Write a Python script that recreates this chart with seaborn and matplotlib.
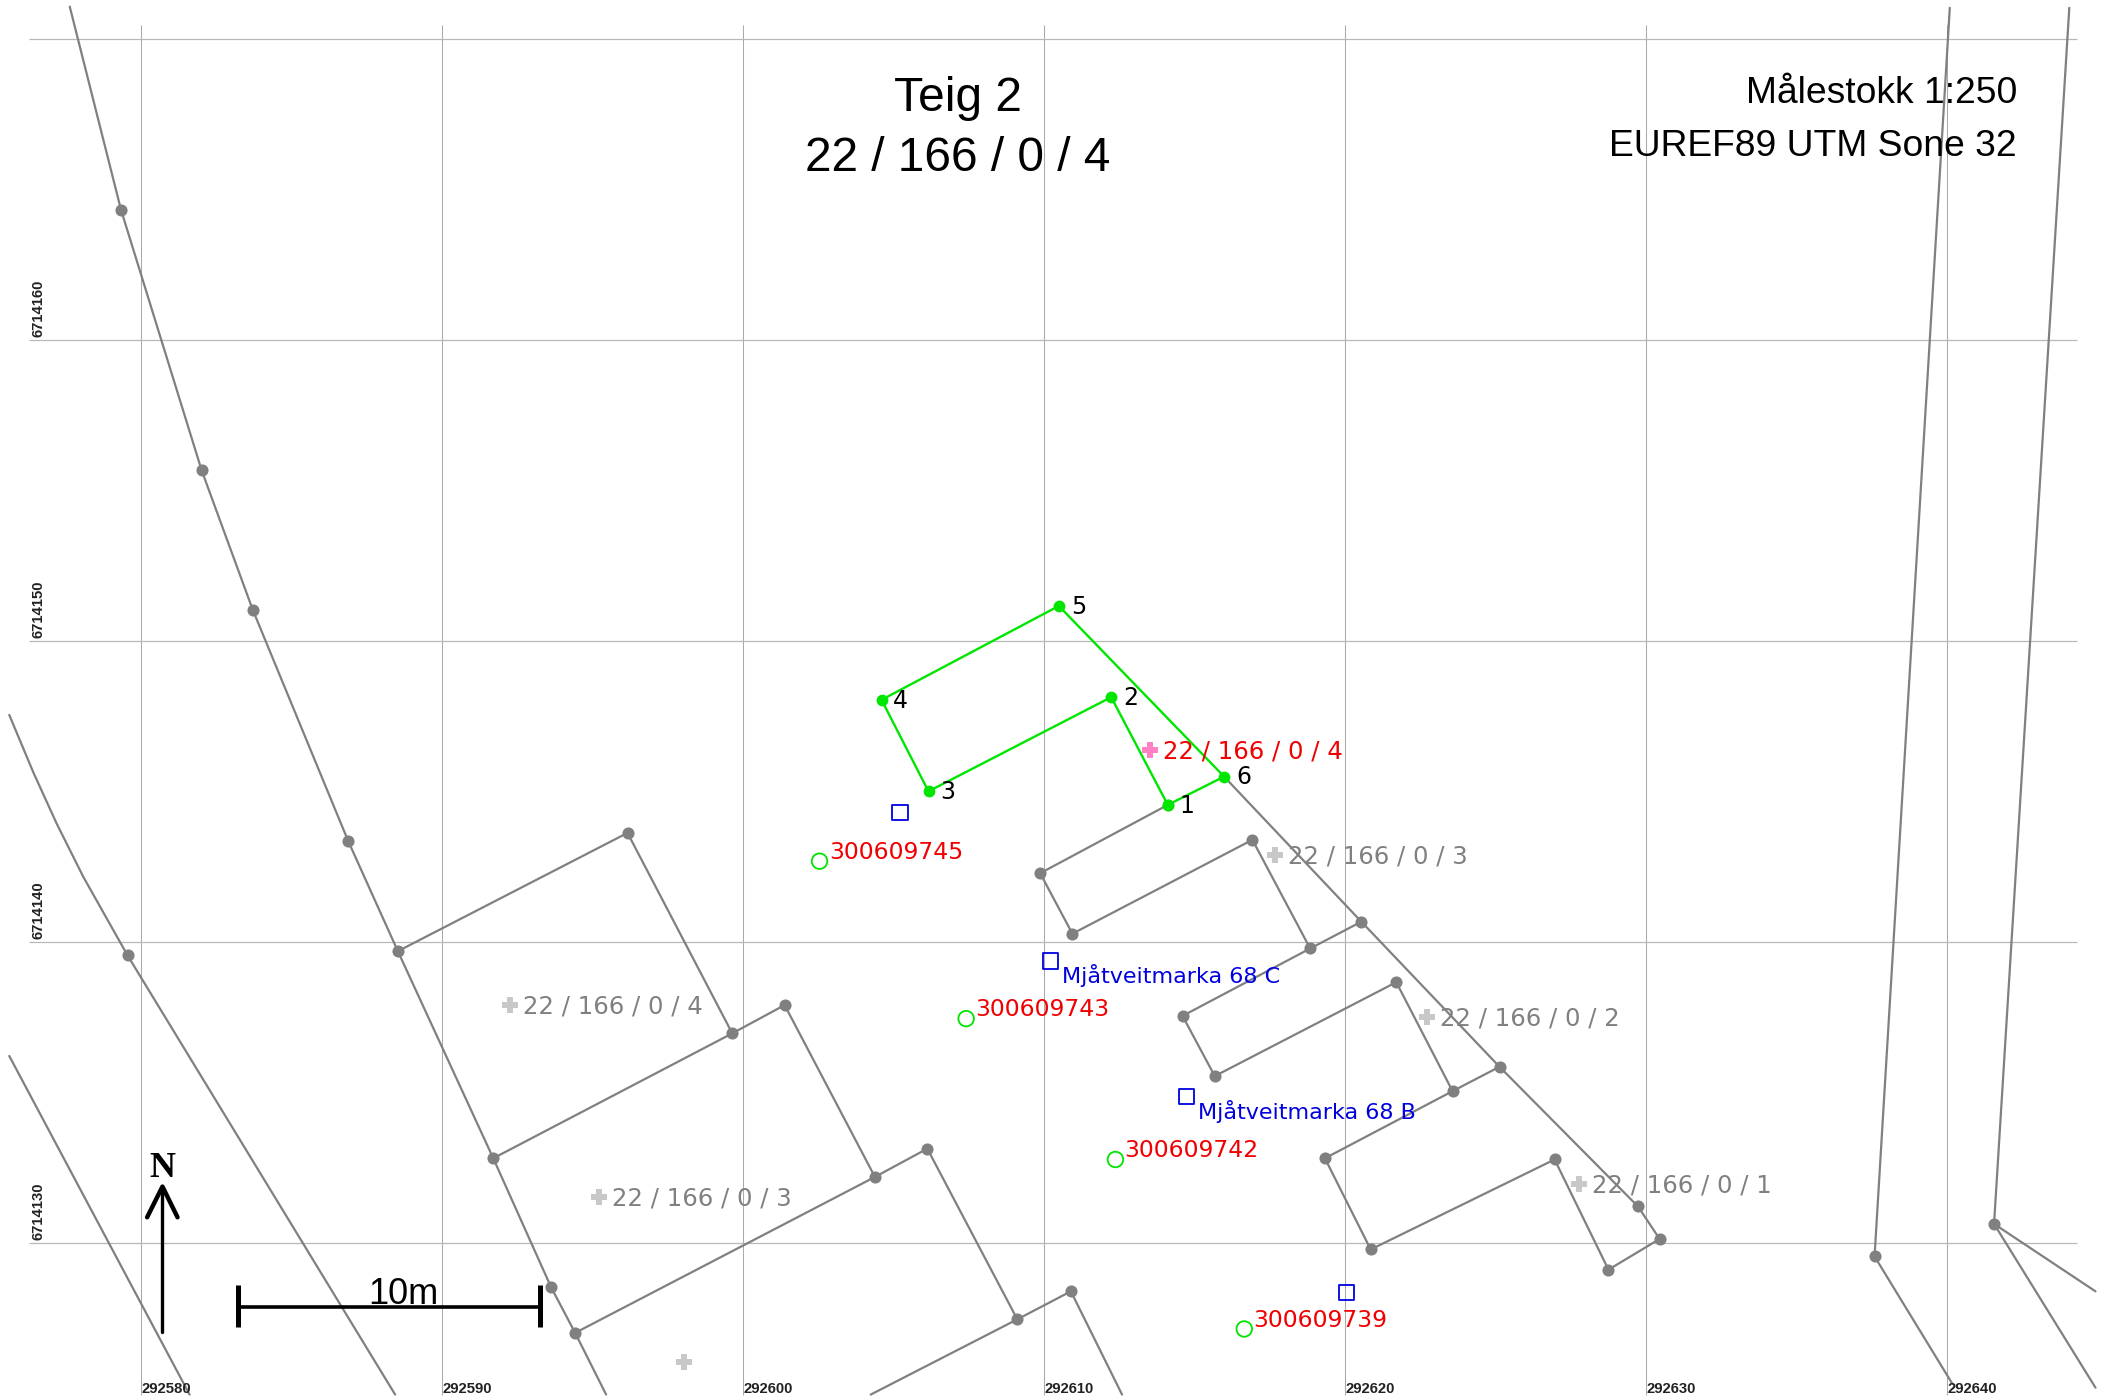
import matplotlib
matplotlib.use('Agg')
import matplotlib.pyplot as plt
import pandas as pd
import seaborn as sns

# everything is in metres from this corner of the map grid
E0 = 292580
N0 = 6714130

grid_e = [0, 10, 20, 30, 40, 50, 60]
grid_n = [0, 10, 20, 30, 40]
e_labels = ['292580', '292590', '292600', '292610', '292620', '292630', '292640']
n_labels = ['6714130', '6714140', '6714150', '6714160']

line_a = [(-2.37, 41.07), (-0.67, 34.33), (2.01, 25.67), (3.71, 21.03), (6.88, 13.35), (8.53, 9.69),
          (11.70, 2.81), (13.62, -1.47), (14.42, -2.99), (15.45, -5.04)]
line_b = [(-4.38, 17.54), (-3.58, 15.63), (-2.81, 13.94), (-1.92, 12.16), (-0.45, 9.55), (8.44, -5.04)]
line_c = [(-4.38, 6.21), (1.61, -5.04)]
parcel_1 = [(8.53, 9.69), (16.16, 13.62), (19.64, 6.96)]
parcel_2 = [(11.70, 2.81), (19.64, 6.96), (21.38, 7.90), (24.38, 2.19)]
parcel_3 = [(14.42, -2.99), (24.38, 2.19), (26.12, 3.13), (29.11, -2.54)]
parcel_4 = [(24.24, -5.04), (29.11, -2.54), (30.89, -1.61), (32.59, -5.04)]
parcel_5 = [(34.11, 14.55), (29.87, 12.28), (30.94, 10.27), (36.92, 13.39), (38.84, 9.78), (40.54, 10.67)]
parcel_6 = [(38.84, 9.78), (34.60, 7.54), (35.67, 5.54), (41.70, 8.66), (43.57, 5.04), (45.13, 5.85)]
parcel_7 = [(43.57, 5.04), (39.33, 2.81), (40.85, -0.22), (46.96, 2.77), (48.75, -0.89), (50.45, 0.13)]
boundary = [(35.98, 15.49), (40.54, 10.67), (45.13, 5.85), (49.73, 1.21), (50.45, 0.13)]
line_r1 = [(60.09, 41.03), (57.59, -0.45), (60.18, -4.69)]
line_r2 = [(64.06, 41.03), (61.56, 0.63), (64.93, -1.61)]
line_r3 = [(61.56, 0.63), (64.93, -4.81)]
grey_lines = [line_a, line_b, line_c, parcel_1, parcel_2, parcel_3, parcel_4, parcel_5,
              parcel_6, parcel_7, boundary, line_r1, line_r2, line_r3]

grey_nodes = [(-0.67, 34.33), (2.01, 25.67), (3.71, 21.03), (6.88, 13.35), (8.53, 9.69), (11.70, 2.81),
              (13.62, -1.47), (14.42, -2.99), (-0.45, 9.55), (16.16, 13.62), (19.64, 6.96), (21.38, 7.90),
              (24.38, 2.19), (26.12, 3.13), (29.11, -2.54), (30.89, -1.61), (29.87, 12.28), (30.94, 10.27),
              (36.92, 13.39), (38.84, 9.78), (40.54, 10.67), (34.60, 7.54), (35.67, 5.54), (41.70, 8.66),
              (43.57, 5.04), (45.13, 5.85), (39.33, 2.81), (40.85, -0.22), (46.96, 2.77), (48.75, -0.89),
              (50.45, 0.13), (49.73, 1.21), (57.59, -0.45), (61.56, 0.63)]

# teig 2 corners, in numbered order
teig_no = ['1', '2', '3', '4', '5', '6']
teig_e = [34.11, 32.23, 26.16, 24.60, 30.49, 35.98]
teig_n = [14.55, 18.13, 15.00, 18.04, 21.16, 15.49]

parcel_names = ['22 / 166 / 0 / 3', '22 / 166 / 0 / 4', '22 / 166 / 0 / 2', '22 / 166 / 0 / 3', '22 / 166 / 0 / 1']
parcel_e = [37.68, 12.27, 42.72, 15.22, 47.77]
parcel_n = [12.90, 7.90, 7.50, 1.52, 1.96]
unnamed_e = [18.03]
unnamed_n = [-3.97]
active_name = '22 / 166 / 0 / 4'
active_e = 33.53
active_n = 16.38

post_ids = ['300609745', '300609743', '300609742', '300609739']
post_e = [22.54, 27.41, 32.37, 36.65]
post_n = [12.68, 7.45, 2.77, -2.86]

addr_names = ['', 'Mjåtveitmarka 68 C', 'Mjåtveitmarka 68 B', '']
addr_e = [25.22, 30.22, 34.73, 40.04]
addr_n = [14.29, 9.37, 4.86, -1.65]

GREY = '#808080'
GREEN = '#00e600'
RED = '#f00000'
BLUE = '#0000e0'

sns.set_theme(style='white')
plt.rcParams['font.family'] = ['DejaVu Sans']

fig = plt.figure(figsize=(21.07, 14), dpi=100)
ax = fig.add_axes([0, 0, 1, 1])

ax.vlines([E0 + e for e in grid_e], N0 - 5.04, N0 + 40.45, color='#aaaaaa', lw=0.75, zorder=1)
ax.hlines([N0 + n for n in grid_n], E0 - 3.72, E0 + 64.3, color='#b8b8b8', lw=0.9, zorder=1)

rows = []
for i, line in enumerate(grey_lines):
    for step, (e, n) in enumerate(line):
        rows.append({'seg': i, 'step': step, 'e': E0 + e, 'n': N0 + n})
lines_df = pd.DataFrame(rows)
sns.lineplot(data=lines_df, x='e', y='n', units='seg', estimator=None, sort=False,
             color=GREY, lw=1.6, legend=False, ax=ax, zorder=2)

nodes_df = pd.DataFrame({'e': [E0 + p[0] for p in grey_nodes], 'n': [N0 + p[1] for p in grey_nodes]})
sns.scatterplot(data=nodes_df, x='e', y='n', color=GREY, s=76, linewidth=0, ax=ax, zorder=3)

teig_df = pd.DataFrame({'e': [E0 + v for v in teig_e + teig_e[:1]], 'n': [N0 + v for v in teig_n + teig_n[:1]]})
sns.lineplot(data=teig_df, x='e', y='n', estimator=None, sort=False, color=GREEN, lw=1.7, ax=ax, zorder=4)
sns.scatterplot(data=teig_df, x='e', y='n', color=GREEN, s=72, linewidth=0, ax=ax, zorder=5)
for no, e, n in zip(teig_no, teig_e, teig_n):
    ax.annotate(no, (E0 + e, N0 + n), xytext=(8.5, -0.5), textcoords='offset points', va='center',
                fontsize=17, color='black', zorder=7)

ax.scatter([E0 + e for e in parcel_e + unnamed_e], [N0 + n for n in parcel_n + unnamed_n],
           marker='P', s=125, color='#c8c8c8', linewidth=0, zorder=5)
for name, e, n in zip(parcel_names, parcel_e, parcel_n):
    ax.annotate(name, (E0 + e, N0 + n), xytext=(9.2, -1.2), textcoords='offset points', va='center',
                fontsize=17.6, color=GREY, zorder=7)
ax.scatter(E0 + active_e, N0 + active_n, marker='P', s=125, color='#ff80c4', linewidth=0, zorder=5)
ax.annotate(active_name, (E0 + active_e, N0 + active_n), xytext=(9.4, -1.2), textcoords='offset points',
            va='center', fontsize=17.6, color=RED, zorder=7)

sns.scatterplot(x=[E0 + e for e in post_e], y=[N0 + n for n in post_n], marker='o', s=125,
                facecolor='none', edgecolor=GREEN, linewidth=1.3, ax=ax, zorder=5)
for pid, e, n in zip(post_ids, post_e, post_n):
    ax.annotate(pid, (E0 + e, N0 + n), xytext=(6.6, 6.4), textcoords='offset points', va='center',
                fontsize=16.9, color=RED, zorder=7)

sns.scatterplot(x=[E0 + e for e in addr_e], y=[N0 + n for n in addr_n], marker='s', s=125,
                facecolor='none', edgecolor=BLUE, linewidth=1.3, ax=ax, zorder=5)
for name, e, n in zip(addr_names, addr_e, addr_n):
    if name:
        ax.annotate(name, (E0 + e, N0 + n), xytext=(8, -10.5), textcoords='offset points', va='center',
                    fontsize=16, color=BLUE, zorder=7)

for label, e in zip(e_labels, grid_e):
    ax.text(E0 + e, N0 - 4.87, label, ha='left', va='center', fontsize=10.7, fontweight='bold',
            family='Liberation Sans', color='#222222')
for label, n in zip(n_labels, grid_n):
    ax.text(E0 - 3.42, N0 + n + 0.1, label, ha='center', va='bottom', rotation=90, fontsize=10.7,
            fontweight='bold', family='Liberation Sans', color='#222222')

ax.text(E0 + 27.14, N0 + 38.01, 'Teig 2', ha='center', va='center', fontsize=34.5, family='Liberation Sans', color='black')
ax.text(E0 + 27.14, N0 + 36.01, '22 / 166 / 0 / 4', ha='center', va='center', fontsize=34.5,
        family='Liberation Sans', color='black')
ax.text(E0 + 62.32, N0 + 38.17, 'Målestokk 1:250', ha='right', va='center', fontsize=26.8,
        family='Liberation Sans', color='black')
ax.text(E0 + 62.32, N0 + 36.43, 'EUREF89 UTM Sone 32', ha='right', va='center', fontsize=26.8,
        family='Liberation Sans', color='black')

# scale bar, 10 m long
ax.plot([E0 + 3.21, E0 + 13.25], [N0 - 2.12, N0 - 2.12], color='black', lw=2.6, zorder=8)
ax.vlines([E0 + 3.21, E0 + 13.25], N0 - 2.8, N0 - 1.4, color='black', lw=3.6, zorder=8)
ax.text(E0 + 8.7, N0 - 2.28, '10m', ha='center', va='bottom', fontsize=26, family='Liberation Sans', color='black', zorder=9)

# north arrow
ax.plot([E0 + 0.71, E0 + 0.71], [N0 - 2.95, N0 + 1.87], color='black', lw=2.4, zorder=8)
ax.plot([E0 + 0.2, E0 + 0.71, E0 + 1.21], [N0 + 0.85, N0 + 1.87, N0 + 0.85], color='black', lw=3.2, zorder=8)
ax.text(E0 + 0.71, N0 + 2.47, 'N', ha='center', va='center', fontsize=26, fontweight='bold',
        family='Liberation Serif', color='black', zorder=9)

ax.set_xlim(E0 - 4.6875, E0 + 65.3125)
ax.set_ylim(N0 - 5.22, N0 + 41.29)
ax.axis('off')
fig.savefig('out.png', dpi=100)
